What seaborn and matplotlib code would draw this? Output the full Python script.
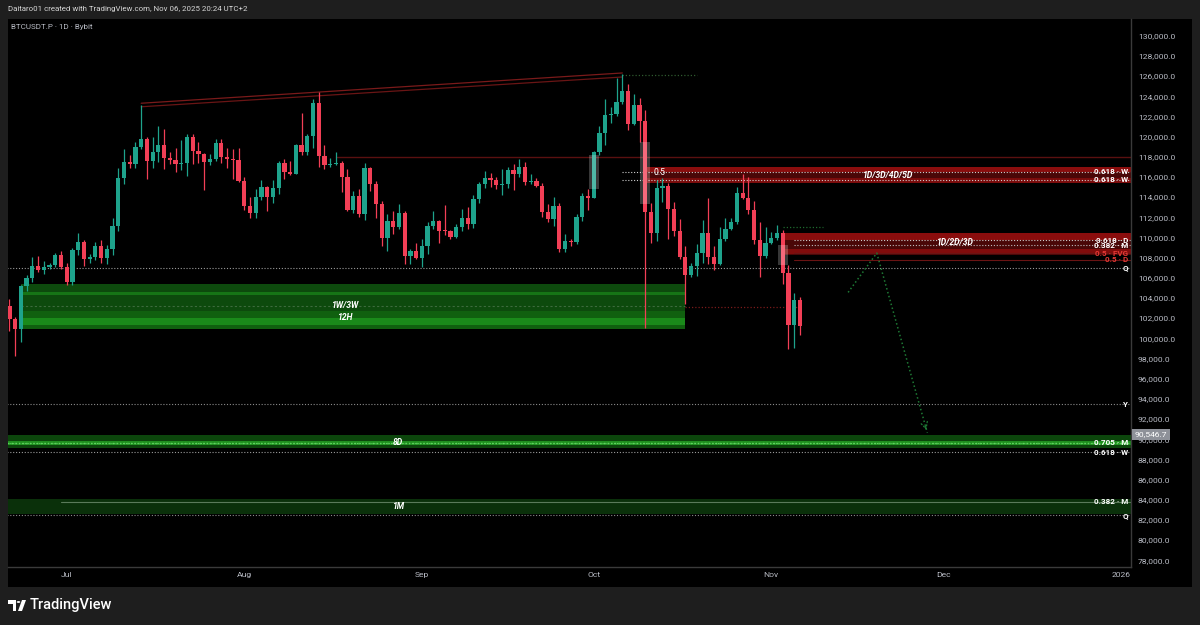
import matplotlib
matplotlib.use("Agg")
import matplotlib.pyplot as plt
import matplotlib.dates as mdates
import matplotlib.transforms as mtransforms
from matplotlib.patches import Rectangle, Circle, Polygon
import numpy as np
import pandas as pd
import seaborn as sns

# ---- data (BTCUSDT.P daily) ----
dates = pd.date_range("2025-06-21", "2025-11-06", freq="D")
opens = [103200, 101950, 100900, 105200, 106000, 107150, 106800, 107050, 107300, 108300,
         107100, 105600, 108750, 109500, 107850, 108050, 109150, 108000, 108850, 111100,
         115900, 117450, 117300, 118950, 119750, 117600, 118500, 119200, 117850, 117700,
         117250, 117350, 119950, 118600, 118250, 117500, 117800, 119350, 117950, 117750,
         117650, 115550, 113100, 112400, 114050, 114950, 114000, 114900, 117350, 116500,
         116300, 119200, 118500, 120100, 123300, 118100, 117200, 117300, 117400, 116000,
         112700, 114150, 112350, 116850, 115300, 113350, 109950, 111650, 111000, 112450,
         108200, 108700, 107950, 109100, 111150, 111600, 110650, 110600, 110000, 111000,
         111900, 111350, 113800, 115300, 115900, 115700, 115150, 115250, 116650, 116300,
         116950, 115450, 115550, 115050, 112500, 111850, 113150, 108850, 109600, 109500,
         112050, 114150, 113950, 118450, 120350, 122100, 122250, 123400, 124550, 121250,
         123150, 121500, 112550, 110450, 114900, 115050, 112850, 110600, 108050, 106250,
         107150, 108450, 110450, 108100, 107400, 109850, 110850, 111500, 114450, 113950,
         112750, 109750, 108150, 109450, 109950, 110450, 106450, 101350, 103750]
highs = [103900, 102100, 105300, 106300, 108100, 108200, 107700, 107500, 108500, 108700,
         107500, 109000, 110450, 109700, 108400, 109550, 109700, 109200, 111900, 116900,
         118750, 118200, 119500, 123150, 120000, 120000, 121000, 120700, 118500, 118850,
         119700, 120300, 120250, 119500, 118400, 118300, 119800, 119800, 118900, 118800,
         118850, 116000, 114000, 114800, 115700, 115100, 115700, 117600, 117800, 117600,
         119300, 122300, 120300, 123700, 124450, 119200, 117900, 118450, 117600, 116800,
         114600, 114800, 117400, 117000, 115600, 113600, 112300, 112600, 113300, 112600,
         108900, 109400, 109800, 111500, 112600, 111700, 113250, 110700, 111300, 112800,
         113000, 114200, 115500, 116600, 116400, 116000, 116800, 117000, 117300, 117750,
         117500, 116300, 115900, 115400, 113300, 114000, 113400, 110300, 109800, 112300,
         114400, 114800, 118600, 121000, 123700, 122900, 125800, 126150, 125200, 124200,
         123800, 122600, 113400, 115700, 115900, 115400, 113500, 111800, 109100, 107500,
         109300, 111700, 113900, 109100, 111000, 111900, 111900, 115000, 116300, 116000,
         113600, 111500, 111000, 110500, 111200, 110700, 107300, 104500, 104100]
lows = [100700, 98200, 99600, 104700, 105600, 106600, 106400, 106900, 107100, 106900,
        105300, 105300, 108300, 107200, 107500, 107800, 107500, 107400, 108300, 110600,
        115300, 116900, 116900, 118800, 115800, 116900, 117500, 116800, 117300, 116500,
        116700, 116050, 117300, 117400, 114700, 117200, 117600, 117400, 116900, 115800,
        115500, 112700, 111950, 111950, 113700, 112600, 113400, 114300, 115800, 116200,
        116300, 118200, 118200, 118900, 117000, 116800, 117000, 117200, 114550, 112600,
        112400, 112000, 111700, 114600, 111900, 109100, 108650, 110300, 110800, 107400,
        107400, 107900, 107100, 108400, 110800, 109400, 110200, 109800, 109900, 110600,
        110800, 110900, 113400, 114900, 115000, 114800, 114250, 114900, 114700, 116000,
        115200, 115300, 115000, 112000, 111500, 111100, 108600, 108600, 109100, 109300,
        111600, 112700, 113900, 118200, 119200, 121300, 122000, 123200, 120600, 121100,
        119500, 101000, 109450, 109600, 113500, 109800, 110100, 107900, 103400, 106100,
        106200, 107500, 107400, 106800, 107300, 109600, 110700, 111300, 113800, 112300,
        109300, 106100, 108000, 109300, 109700, 105400, 98900, 99000, 100300]
closes = [101950, 100900, 105200, 106000, 107150, 106800, 107050, 107300, 108300, 107100,
          105600, 108750, 109500, 107850, 108050, 109150, 108000, 108850, 111100, 115900,
          117450, 117300, 118950, 119750, 117600, 118500, 119200, 117850, 117700, 117250,
          117350, 119950, 118600, 118250, 117500, 117800, 119350, 117950, 117750, 117650,
          115550, 113100, 112400, 114050, 114950, 114000, 114900, 117350, 116500, 116300,
          119200, 118500, 120100, 123300, 118100, 117200, 117300, 117400, 116000, 112700,
          114150, 112350, 116850, 115300, 113350, 109950, 111650, 111000, 112450, 108200,
          108700, 107950, 109100, 111150, 111600, 110650, 110600, 110000, 111000, 111900,
          111350, 113800, 115300, 115900, 115700, 115150, 115250, 116650, 116300, 116950,
          115450, 115550, 115050, 112500, 111850, 113150, 108850, 109600, 109500, 112050,
          114150, 113950, 118450, 120350, 122100, 122250, 123400, 124550, 121250, 123150,
          121500, 112550, 110450, 114900, 115050, 112850, 110600, 108050, 106250, 107150,
          108450, 110450, 108100, 107400, 109850, 110850, 111500, 114450, 113950, 112750,
          109750, 108150, 109450, 109950, 110450, 106450, 101350, 103750, 101200]

# y axis ticks and month labels
price_ticks = list(range(78000, 130001, 2000))
month_ticks = ["2025-07-01", "2025-08-01", "2025-09-01", "2025-10-01",
               "2025-11-01", "2025-12-01", "2026-01-01"]
month_labels = ["Jul", "Aug", "Sep", "Oct", "Nov", "Dec", "2026"]

# drawn zones: (bottom, top, start date[, end date])
green_zone_1w = (102100, 105420, "2025-06-23", "2025-10-17")
green_zone_12h = (100930, 102700, "2025-06-23", "2025-10-17")
red_zone_5d = (115390, 116970, "2025-10-09 18:00")
red_zone_3d = (108290, 110440, "2025-11-02 16:00")
green_zone_8d = (89150, 90450, "2025-06-20")
green_zone_1m = (82600, 84100, "2025-06-20")

# right-edge labelled levels
level_prices = [116530, 115700, 109700, 109200, 108450, 107790, 106970, 93470, 89640, 88710, 83800, 82450]
level_labels = ["0.618 · W", "0.618 · W", "0.618 · D", "0.382 · M", "0.5 · FVG", "0.5 · D",
                "Q", "Y", "0.705 · M", "0.618 · W", "0.382 · M", "Q"]
level_starts = ["2025-10-06", "2025-10-06", "2025-11-05", "2025-11-05", "2025-11-05", "2025-11-05",
                "2025-06-20", "2025-06-20", "2025-06-20", "2025-06-20", "2025-06-30", "2025-06-20"]

# projected path (green dotted arrow)
path_dates = ["2025-11-14 10:00", "2025-11-19 10:00", "2025-11-28 06:00"]
path_prices = [104550, 108450, 90630]

# trendlines across the highs
trend_dates = ["2025-07-14", "2025-10-06"]
trend_upper = [123300, 126300]
trend_lower = [122950, 125900]

# ---- styling ----
sns.set_theme(style="dark", rc={"axes.facecolor": "black", "figure.facecolor": "#1e1e1e"})
plt.rcParams["font.family"] = ["Roboto", "DejaVu Sans"]

UP, DOWN = "#1ea38c", "#f23f56"
W, H = 1200, 625


def fx(px):
    return px / W


def fy(py):
    return 1 - py / H


fig = plt.figure(figsize=(12, 6.25), dpi=100, facecolor="#1e1e1e")
# black panel behind price scale and time scale (drawn in its own background axes)
bg = fig.add_axes([fx(8), fy(587), fx(1184), (587 - 19) / H], zorder=-1)
bg.set_facecolor("black")
bg.set_xticks([])
bg.set_yticks([])
for sp in bg.spines.values():
    sp.set_visible(False)

ax = fig.add_axes([fx(8), fy(567), fx(1131 - 8), (567 - 19) / H])
ax.set_facecolor("black")

t0 = pd.Timestamp("2025-06-21")
xmin = t0 - pd.Timedelta(hours=6)
xmax = t0 + pd.Timedelta(days=195.8)

x = mdates.date2num(dates)
o, h, l, c = map(np.array, (opens, highs, lows, closes))
cols = np.where(c >= o, UP, DOWN)


def hband(lo, hi, start, end=None, **kw):
    s = pd.Timestamp(start)
    e = xmax if end is None else pd.Timestamp(end)
    ax.fill_between([s, e], lo, hi, linewidth=0, **kw)


def hline(y, start, end=None, **kw):
    s = pd.Timestamp(start)
    e = xmax if end is None else pd.Timestamp(end)
    ax.plot([s, e], [y, y], **kw)


dots = (0, (1, 1.6))

# green zones
lo, hi, s, e = green_zone_1w
hband(lo, hi, s, e, color="#0d4a0d", zorder=1)
hband(104300, 104560, s, e, color="#167516", zorder=1)
lo, hi, s, e = green_zone_12h
hband(lo, hi, s, e, color="#10600f", zorder=1)
hband(101350, 102050, s, e, color="#1a8a1a", zorder=1)
hline(103170, s, e, color="#3d6b3d", lw=0.8, ls=(0, (2, 2)), zorder=1)

lo, hi, s = green_zone_8d
hband(lo, hi, s, color="#0c460c", zorder=1)
hband(89450, 89850, s, color="#1f8f1f", zorder=1)
hline(89640, s, color="#5fd35f", lw=1.0, ls=dots, zorder=2)

lo, hi, s = green_zone_1m
hband(lo, hi, s, color="#0a300a", zorder=1)

# red zones
lo, hi, s = red_zone_5d
hband(lo, hi, s, color="#4a0707", zorder=1)
hband(116450, 116950, s, color="#8a0d0d", zorder=1)
hband(115420, 115850, s, color="#7a0b0b", zorder=1)
lo, hi, s = red_zone_3d
hband(lo, hi, s, color="#4a0707", zorder=1)
hband(109750, 110420, s, color="#8a0d0d", zorder=1)
hband(108320, 108900, s, color="#800c0c", zorder=1)

# other horizontal rays
hline(118000, "2025-08-17", color="#5a1010", lw=1.0, zorder=1)
hline(126100, "2025-10-06", "2025-10-19", color="#2f5a2f", lw=0.9, ls=dots, zorder=2)
hline(111030, "2025-11-03", "2025-11-10", color="#1f6b2f", lw=0.9, ls=dots, zorder=2)
hline(103100, "2025-10-17", "2025-11-06", color="#7a1a1a", lw=0.9, ls=dots, zorder=2)

level_styles = [
    dict(color="#cfcfcf", ls=dots), dict(color="#cfcfcf", ls=dots),
    dict(color="#cfcfcf", ls=dots), dict(color="#bdbdbd", ls=dots),
    dict(color="#6a1414", ls="-"), dict(color="#6a1414", ls="-"),
    dict(color="#9a9a9a", ls=dots), dict(color="#8a8a8a", ls=dots),
    dict(color="#5fd35f", ls=dots), dict(color="#9a9a9a", ls=dots),
    dict(color="#5a7a5a", ls="-"), dict(color="#8a8a8a", ls=dots),
]
level_text_colors = ["white", "white", "white", "white", "#e53935", "#e53935",
                     "white", "white", "white", "white", "white", "white"]
tr = mtransforms.blended_transform_factory(ax.transAxes, ax.transData)
for p, lab, st, sty, tc in zip(level_prices, level_labels, level_starts, level_styles, level_text_colors):
    hline(p, st, lw=0.8, zorder=2, **sty)
    ax.text(0.9975, p, lab, transform=tr, ha="right", va="center", fontsize=5.8,
            color=tc, fontweight="bold", zorder=6)

# trendlines over highs
ax.plot(pd.to_datetime(trend_dates), trend_upper, color="#7a1a1a", lw=0.9, zorder=2)
ax.plot(pd.to_datetime(trend_dates), trend_lower, color="#6a1515", lw=0.9, zorder=2)

# candles
ax.vlines(x, l, h, colors=cols, lw=0.9, zorder=3)
body = np.maximum(np.abs(c - o), 90)
ax.bar(x, body, bottom=np.minimum(o, c), width=0.74, color=cols, linewidth=0, zorder=4)

# translucent selection boxes
for d, lo, hi in [("2025-10-01", 114820, 118120), ("2025-10-10", 113310, 119450),
                  ("2025-11-03", 107280, 109250)]:
    xd = mdates.date2num(pd.Timestamp(d))
    ax.add_patch(Rectangle((xd - 0.85, lo), 1.7, hi - lo, facecolor="white", alpha=0.22,
                           linewidth=0, zorder=5))

# projected path
path = pd.DataFrame({"date": pd.to_datetime(path_dates), "price": path_prices})
sns.lineplot(data=path, x="date", y="price", sort=False, ax=ax, color="#1e7a35",
             lw=1.1, linestyle=":", zorder=5)
ax.annotate("", xy=(path["date"].iloc[2], path_prices[2]),
            xytext=(path["date"].iloc[2] - pd.Timedelta(hours=12), path_prices[2] + 900),
            arrowprops=dict(arrowstyle="->", color="#1e7a35", lw=0.9, linestyle=":"), zorder=5)
ax.set_xlabel("")
ax.set_ylabel("")
ax.set_xlim(xmin, xmax)
ax.set_ylim(77330, 131650)

# zone labels
zone_text = [("1W/3W", "2025-08-18 14:00", 103250), ("12H", "2025-08-18 14:00", 102050),
             ("8D", "2025-08-27 20:00", 89640), ("1M", "2025-08-27 20:00", 83300),
             ("1D/3D/4D/5D", "2025-11-21 04:00", 116180), ("1D/2D/3D", "2025-12-03", 109450)]
for txt, d, p in zone_text:
    ax.text(pd.Timestamp(d), p, txt, ha="center", va="center", fontsize=6.2, color="white",
            fontweight="bold", fontstyle="italic", zorder=6)
ax.text(pd.Timestamp("2025-10-12 12:00"), 116450, "0.5", ha="center", va="center",
        fontsize=6.2, color="white", zorder=6)

# axes look
for side in ("top", "left"):
    ax.spines[side].set_visible(False)
for side in ("right", "bottom"):
    ax.spines[side].set_color("#3a3a3a")
    ax.spines[side].set_linewidth(1.0)
ax.yaxis.tick_right()
ax.set_yticks(price_ticks)
ax.set_yticklabels([f"{v:,.1f}" for v in price_ticks])
ax.set_xticks(pd.to_datetime(month_ticks))
ax.set_xticklabels(month_labels)
ax.tick_params(axis="y", length=0, pad=5, labelsize=6.1, labelcolor="#b8bbc4")
ax.tick_params(axis="x", length=0, pad=3.5, labelsize=6.1, labelcolor="#b8bbc4")
ax.grid(False)

# last-price label on the scale
fig.text(fx(1151), fy(434.5), "90,546.7", ha="center", va="center", fontsize=6.1, color="white",
         bbox=dict(boxstyle="square,pad=0.3", fc="#8e9199", ec="none"))

# header / watermark texts
fig.text(fx(8), fy(9), "Daitaro01 created with TradingView.com, Nov 06, 2025 20:24 UTC+2",
         ha="left", va="center", fontsize=5.7, color="#d6d6d6")
fig.text(fx(11), fy(27), "BTCUSDT.P · 1D · Bybit", ha="left", va="center", fontsize=5.8,
         color="#b8bbc4")
fig.text(fx(30), fy(605), "TradingView", ha="left", va="center", fontsize=10.5,
         color="white", fontweight="medium")
# little logo mark
fig.patches.append(Polygon([[fx(8), fy(600)], [fx(16), fy(600)], [fx(16), fy(611)], [fx(12.5), fy(611)],
                            [fx(12.5), fy(603.5)], [fx(8), fy(603.5)]], closed=True,
                           transform=fig.transFigure, facecolor="white", edgecolor="none", zorder=3))
fig.patches.append(Circle((fx(18.5), fy(602)), 1.8 / W, transform=fig.transFigure,
                          facecolor="white", edgecolor="none", zorder=3))
fig.patches.append(Polygon([[fx(22), fy(600)], [fx(26), fy(600)], [fx(22), fy(611)], [fx(18), fy(611)]],
                           closed=True, transform=fig.transFigure, facecolor="white", edgecolor="none",
                           zorder=3))

fig.savefig("out.png", dpi=100, facecolor=fig.get_facecolor())
